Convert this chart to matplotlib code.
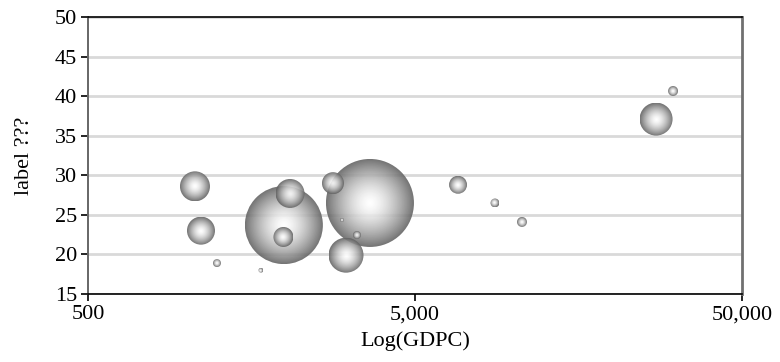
import numpy as np
import matplotlib
matplotlib.use("Agg")
import matplotlib.pyplot as plt
from matplotlib.patches import Circle
from matplotlib.transforms import IdentityTransform
from matplotlib.ticker import FixedLocator, NullLocator, FuncFormatter

plt.rcParams['font.family'] = ['Liberation Serif', 'DejaVu Serif']

# bubble data: GDP per capita, y value, bubble size (area units)
gdpc = [1062, 1108, 1240, 1690, 1986, 1980, 2074, 2806, 3641, 3076, 2990, 3323,
        6770, 8780, 10620, 27300, 30770]
yval = [28.6, 23.0, 18.9, 18.0, 23.7, 22.2, 27.7, 29.0, 26.5, 19.9, 24.35, 22.45,
        28.8, 26.5, 24.1, 37.1, 40.65]
size = [225, 196, 16, 6, 1521, 100, 210, 121, 1936, 306, 4, 16, 81, 20, 25, 272, 25]

xticks = [500, 5000, 50000]
yticks = [15, 20, 25, 30, 35, 40, 45, 50]

fig = plt.figure(figsize=(7.8, 3.62), dpi=100)
ax = fig.add_axes([0.1128, 0.188, 0.8385, 0.765])
ax.set_xscale("log")
ax.set_xlim(500, 50000)
ax.set_ylim(15, 50)
ax.set_autoscale_on(False)

ax.xaxis.set_major_locator(FixedLocator(xticks))
ax.xaxis.set_minor_locator(NullLocator())
ax.xaxis.set_major_formatter(FuncFormatter(lambda v, p: f"{int(v):,}"))
ax.set_yticks(yticks)
ax.yaxis.grid(True, color="#d9d9d9", lw=2)
ax.set_axisbelow(True)
ax.tick_params(axis="both", direction="out", length=5, width=1.2, labelsize=16,
               color="black", pad=3)

for s in ["bottom", "top"]:
    ax.spines[s].set_color("black")
    ax.spines[s].set_linewidth(1.2)
ax.spines["left"].set_color("#666666")
ax.spines["left"].set_linewidth(1.4)
ax.spines["right"].set_color("#707070")
ax.spines["right"].set_linewidth(2)

ax.set_xlabel("Log(GDPC)", fontsize=16, labelpad=5)
ax.set_ylabel("label ???", fontsize=16, labelpad=15)

# radial gradient texture, white centre to grey edge
n = 200
g = np.linspace(-1, 1, n)
xx, yy = np.meshgrid(g, g)
d = np.clip(np.sqrt(xx**2 + yy**2), 0, 1)
lum = 1.0 - 0.62 * d**1.5
rgba = np.zeros((n, n, 4))
rgba[..., 0] = lum
rgba[..., 1] = lum
rgba[..., 2] = lum
rgba[..., 3] = 0.88

fig.canvas.draw()
order = np.argsort(size)[::-1]
for i in order:
    cx, cy = ax.transData.transform((gdpc[i], yval[i]))
    r = np.sqrt(size[i])
    im = ax.imshow(rgba, extent=[cx - r, cx + r, cy - r, cy + r],
                   transform=IdentityTransform(), aspect="auto",
                   interpolation="bilinear", zorder=3)
    clip = Circle((cx, cy), r, transform=IdentityTransform())
    im.set_clip_path(clip)

ax.set_xlim(500, 50000)
ax.set_ylim(15, 50)

fig.savefig("out.png", dpi=100)
